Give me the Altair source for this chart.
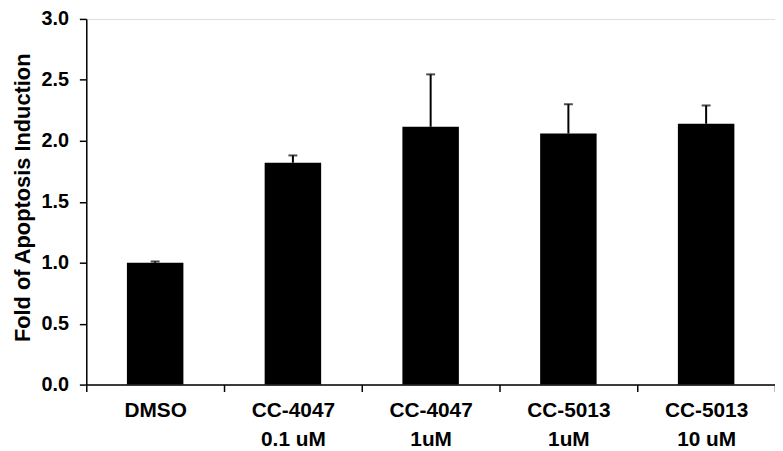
import altair as alt
import pandas as pd

categories = ["DMSO", "CC-4047\n0.1 uM", "CC-4047\n1uM", "CC-5013\n1uM", "CC-5013\n10 uM"]
values = [1.00, 1.82, 2.115, 2.06, 2.14]
upper = [1.01, 1.88, 2.545, 2.30, 2.29]

df = pd.DataFrame({"cat": categories, "value": values, "upper": upper})

FONT = "Liberation Sans"

x = alt.X("cat:N", sort=categories, title=None,
          scale=alt.Scale(paddingInner=0, paddingOuter=0),
          axis=alt.Axis(labelAngle=0, tickBand="extent", tickSize=7, tickWidth=1.5,
                        tickColor="black", domainColor="black", domainWidth=1.5,
                        labelFont=FONT, labelFontSize=21, labelFontWeight="bold",
                        labelColor="black", labelPadding=8, labelLineHeight=29,
                        labelBaseline="top",
                        labelExpr="split(datum.label, '\\n')"))

y_axis = alt.Axis(values=[0, 0.5, 1.0, 1.5, 2.0, 2.5, 3.0], format=".1f",
                  grid=False, tickSize=7, tickWidth=1.5, tickColor="black",
                  domainColor="black", domainWidth=1.5,
                  labelFont=FONT, labelFontSize=20, labelFontWeight="bold",
                  labelColor="black", labelPadding=11,
                  titleFont=FONT, titleFontSize=22, titleFontWeight="bold",
                  titleColor="black", titleX=-52, titleY=180,
                  titleAlign="center", titleAngle=270, titleBaseline="bottom")

y = alt.Y("value:Q", title="Fold of Apoptosis Induction",
          scale=alt.Scale(domain=[0, 3], nice=False), axis=y_axis)

bars = alt.Chart(df).mark_bar(color="black", size=57).encode(x=x, y=y)

rules = alt.Chart(df).mark_rule(color="black", strokeWidth=2).encode(
    x=alt.X("cat:N", sort=categories),
    y=alt.Y("value:Q"),
    y2="upper:Q")

caps = alt.Chart(df).mark_tick(color="black", size=9, thickness=2).encode(
    x=alt.X("cat:N", sort=categories),
    y=alt.Y("upper:Q"))

chart = alt.layer(bars, rules, caps).properties(
    width=695, height=369,
    autosize=alt.AutoSizeParams(type="none"),
    padding={"left": 79, "top": 9, "right": 0, "bottom": 65},
).configure_view(stroke="black", strokeWidth=1.5).configure(background="white")

chart.save("out.html", embed_options={"renderer": "svg", "actions": False})
